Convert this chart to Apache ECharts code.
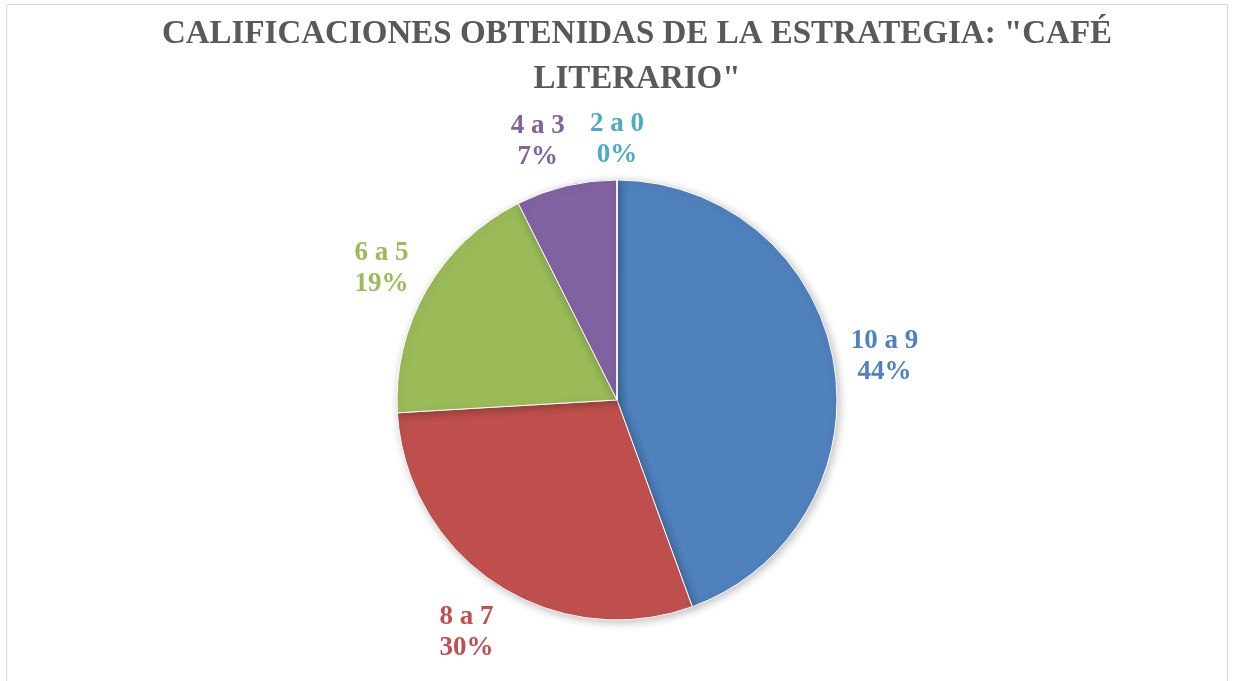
<!DOCTYPE html>
<html><head><meta charset="utf-8">
<script src="https://cdn.jsdelivr.net/npm/echarts@6/dist/echarts.min.js"></script>
<style>html,body{margin:0;padding:0;background:#fff}#c{width:1233px;height:681px}</style>
</head><body><div id="c"></div>
<script>
const categories = ["10 a 9", "8 a 7", "6 a 5", "4 a 3", "2 a 0"];
const counts = [12, 8, 5, 2, 0];
const colors = ["#4F81BD", "#C0504D", "#9BBB59", "#8064A2", "#4BACC6"];
const titleText = 'CALIFICACIONES OBTENIDAS DE LA ESTRATEGIA: "CAFÉ\nLITERARIO"';

const CX = 617, CY = 400, R = 220, GAP = 13, YSHIFT = 4;
const total = counts.reduce((a, b) => a + b, 0);
const midAngles = [];
{ let acc = 0; counts.forEach(v => { midAngles.push((acc + v / 2) / total * 2 * Math.PI); acc += v; }); }

const chart = echarts.init(document.getElementById('c'));
const font = '"Liberation Serif", "DejaVu Serif", serif';
chart.setOption({
  backgroundColor: '#fff',
  graphic: [{type:'rect', shape:{x:6.5,y:4.5,width:1221,height:700}, style:{fill:'none', stroke:'#d9d9d9', lineWidth:1}, silent:true}],
  title: {
    text: titleText, left: 632, top: 7, textAlign: 'center',
    textStyle: {fontFamily: font, fontWeight: 'bold', fontSize: 33, color: '#595959', lineHeight: 45}
  },
  series: [{
    type: 'pie',
    center: [CX, CY], radius: R,
    startAngle: 90, clockwise: true,
    minAngle: 0.01,
    percentPrecision: 0,
    avoidLabelOverlap: false,
    data: categories.map((c, i) => ({name: c, value: counts[i], itemStyle: {color: colors[i]}, label: {color: colors[i]}})),
    itemStyle: {borderColor: '#fff', borderWidth: 1, shadowBlur: 8, shadowColor: 'rgba(0,0,0,0.25)', shadowOffsetX: 2, shadowOffsetY: 2},
    label: {
      show: true, position: 'outside', formatter: '{b}\n{d}%',
      fontFamily: font, fontWeight: 'bold', fontSize: 27, lineHeight: 31, align: 'center'
    },
    labelLine: {show: false},
    labelLayout: function (p) {
      const a = midAngles[p.dataIndex];
      const dx = Math.sin(a), dy = -Math.cos(a);
      const w = p.labelRect.width, h = p.labelRect.height;
      const d = R + Math.abs(dx) * w / 2 + Math.abs(dy) * h / 2 + GAP;
      let x = CX + dx * d;
      if (p.dataIndex === 3) x -= 17;
      return {x: x, y: CY + dy * d + YSHIFT, align: 'center', verticalAlign: 'middle'};
    }
  }]
});
</script></body></html>
